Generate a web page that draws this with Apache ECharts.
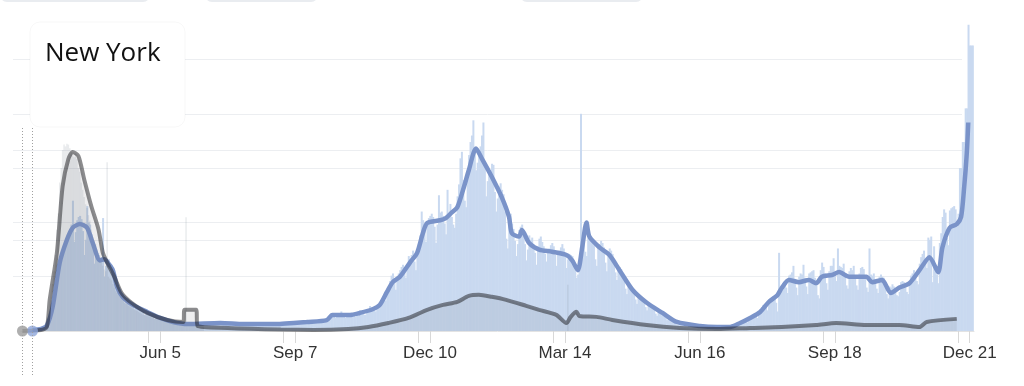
<!DOCTYPE html>
<html><head><meta charset="utf-8">
<script src="https://cdn.jsdelivr.net/npm/echarts@6/dist/echarts.min.js"></script>
<style>html,body{margin:0;padding:0;background:#fff}#c{width:1024px;height:386px}</style>
</head><body><div id="c"></div>
<script>
// ---------- data ----------
const chartTitle = 'New York';
const tickLabelDates = ['2020-06-05','2020-09-07','2020-12-10','2021-03-14','2021-06-16','2021-09-18','2021-12-21'];
const axisStart = '2020-02-29', axisEnd = '2021-12-24';

// daily reported cases (thousands), one value per day from casesStart
const casesStart = '2020-03-01';
const casesDaily = [
 0,0,0,0,0,0,0,0.05,0.05,0.1,0.1,0.15,0.2,0.2,0.25,0.3,0.4,0.6,1.0,1.5,1.9,2.3,2.9,3.8,4.6,5.4,6.4,6.8,7.1,7.4,8.0,
 8.6,9.0,9.4,9.8,12.0,8.2,9.1,10.2,10.5,10.6,10.3,9.2,7.0,8.4,11.5,10.0,9.8,8.9,7.8,6.2,6.8,7.2,7.0,6.5,6.8,10.4,5.0,6.0,6.2,6.6,
 6.0,6.1,5.6,4.4,4.3,4.0,3.8,3.6,3.2,2.9,2.6,2.9,3.0,2.8,2.6,2.5,2.3,2.0,2.2,2.3,2.2,2.1,1.9,1.8,1.5,1.6,1.8,1.7,1.6,1.5,1.3,
 1.1,1.2,1.3,1.3,1.2,1.1,1.0,0.9,0.9,1.0,0.9,0.9,0.8,0.7,0.7,0.8,0.8,0.7,0.8,0.7,0.6,0.6,0.6,0.7,0.7,0.7,0.6,0.6,0.5,0.6,
 0.6,0.7,0.7,0.6,0.6,0.5,0.6,0.6,0.7,0.8,0.7,0.7,0.6,0.7,0.8,0.8,0.8,0.8,0.7,0.6,0.7,0.7,0.8,0.8,0.7,0.6,0.6,0.6,0.7,0.7,0.7,
 0.7,0.6,0.5,0.6,0.7,0.7,0.7,0.7,0.6,0.5,0.6,0.7,0.7,0.7,0.7,0.6,0.5,0.6,0.6,0.7,0.7,0.7,0.6,0.5,0.6,0.6,0.7,0.7,0.7,0.6,0.6,
 0.6,0.7,0.8,0.8,0.8,0.7,0.6,0.6,0.7,0.8,0.8,0.8,0.7,0.7,0.8,0.8,0.9,0.9,0.9,0.8,0.8,0.8,0.9,0.9,1.0,1.0,0.9,0.9,1.1,1.2,
 1.4,1.6,1.5,1.3,1.2,1.3,1.5,1.6,1.8,1.5,1.3,1.2,1.3,1.4,1.6,1.7,1.6,1.4,1.3,1.6,1.8,1.9,1.8,1.7,1.5,1.5,1.9,2.0,2.3,2.2,2.1,
 1.9,1.8,2.2,2.4,2.6,2.8,3.0,2.9,2.8,3.6,4.1,4.6,5.1,5.3,4.6,3.8,4.9,5.3,5.6,5.9,6.1,5.5,4.9,6.0,6.9,6.5,7.0,7.4,6.4,5.6,
 7.4,8.0,8.8,11.0,10.2,9.4,8.2,9.7,10.4,10.6,10.8,10.5,9.6,8.1,9.8,12.5,10.9,11.0,10.6,9.9,8.9,13.0,10.8,11.7,10.5,9.8,9.5,10.8,12.4,13.5,15.9,
 16.5,13.9,12.0,11.4,14.0,16.2,17.4,18.0,19.4,16.5,14.8,15.5,16.2,17.0,18.0,19.2,15.1,12.4,13.8,14.5,14.8,15.4,15.3,12.8,11.0,12.2,13.3,13.6,13.0,12.6,11.0,
 8.5,7.6,10.2,10.8,9.9,9.4,8.3,6.9,8.0,9.3,9.6,9.8,8.9,8.0,6.5,7.5,8.8,8.4,8.6,8.0,7.2,6.1,7.8,8.5,8.7,8.2,7.8,7.1,
 6.4,7.3,7.6,7.9,8.1,7.8,7.0,6.0,7.0,7.4,7.7,8.0,7.6,6.9,5.8,6.6,7.1,7.0,6.9,6.5,5.8,4.9,5.2,6.2,20.0,8.4,8.1,7.3,6.9,8.6,8.9,
 8.7,8.4,7.9,6.6,6.0,7.6,8.0,8.3,8.1,7.7,6.3,5.5,7.0,7.6,7.4,7.1,6.6,5.4,4.7,5.6,5.9,5.7,5.3,4.8,3.9,3.4,4.2,4.3,4.1,3.8,
 3.5,2.9,2.5,3.1,3.2,3.0,2.9,2.7,2.2,1.9,2.4,2.5,2.3,2.2,2.0,1.6,1.4,1.8,1.9,1.8,1.7,1.5,1.2,1.0,1.2,1.2,1.1,1.0,0.9,0.8,0.6,
 0.6,0.7,0.7,0.7,0.6,0.5,0.4,0.5,0.5,0.6,0.5,0.5,0.4,0.3,0.4,0.4,0.5,0.4,0.4,0.3,0.3,0.4,0.4,0.4,0.4,0.4,0.3,0.3,0.4,0.4,
 0.4,0.4,0.3,0.3,0.3,0.4,0.5,0.6,0.6,0.6,0.5,0.5,0.7,0.8,0.9,1.0,1.0,0.9,0.8,1.1,1.3,1.4,1.5,1.4,1.3,1.2,1.8,2.0,2.2,2.4,2.3,
 2.2,1.9,2.9,3.0,3.1,3.2,3.0,2.6,1.8,7.2,3.9,4.2,4.4,4.6,4.0,3.5,5.1,5.2,5.4,6.0,4.8,4.0,3.3,5.0,5.3,5.2,6.1,4.9,4.1,3.4,5.3,
 5.4,5.5,5.6,4.9,4.2,3.3,3.0,5.6,6.3,5.9,5.3,4.4,3.8,5.5,6.0,6.0,6.7,5.4,4.6,7.6,6.0,5.9,5.8,6.2,5.0,4.2,3.9,5.5,5.8,5.6,
 6.0,5.1,4.2,3.8,5.3,5.8,5.9,5.7,5.0,4.0,3.6,7.6,5.2,5.1,5.3,4.6,3.9,3.5,5.0,5.2,5.0,4.9,4.3,3.4,3.0,4.1,4.0,4.3,4.1,3.7,3.3,
 3.2,3.6,4.5,4.6,4.5,4.3,3.6,3.4,4.6,5.1,5.3,5.6,5.2,4.6,4.3,6.2,6.8,7.1,7.4,6.6,5.8,8.6,8.4,8.7,4.5,7.8,6.0,5.2,4.4,8.1,
 9.0,10.5,11.2,10.9,8.6,7.9,11.1,11.3,11.4,11.5,11.2,9.6,10.8,15.0,15.0,17.4,17.4,20.5,20.5,28.2,26.3,26.3,26.3
];

// 7-day average of cases (thousands)
const casesAvg = [
 ['2020-03-08',0.1],['2020-03-14',0.2],['2020-03-18',0.5],['2020-03-22',2.2],['2020-03-27',6.3],['2020-04-01',8.4],
 ['2020-04-05',9.5],['2020-04-10',9.85],['2020-04-15',9.5],['2020-04-19',8.1],['2020-04-24',6.5],['2020-04-27',6.6],
 ['2020-04-30',6.2],['2020-05-03',5.6],['2020-05-06',4.05],['2020-05-10',3.1],['2020-05-17',2.4],['2020-05-27',1.75],
 ['2020-06-05',1.2],['2020-06-14',0.83],['2020-06-24',0.64],['2020-07-17',0.74],['2020-08-02',0.64],['2020-08-26',0.64],
 ['2020-09-06',0.74],['2020-09-15',0.83],['2020-09-29',1.0],['2020-10-03',1.47],['2020-10-15',1.47],['2020-10-22',1.66],
 ['2020-10-31',2.0],['2020-11-05',2.4],['2020-11-10',3.6],['2020-11-14',4.5],['2020-11-19',5.0],['2020-11-26',6.3],
 ['2020-12-01',7.2],['2020-12-05',9.0],['2020-12-08',9.95],['2020-12-17',10.2],['2020-12-21',10.4],['2020-12-25',10.9],
 ['2020-12-29',11.4],['2021-01-02',13.0],['2021-01-06',14.8],['2021-01-11',16.8],['2021-01-15',15.9],['2021-01-22',14.2],
 ['2021-01-29',12.3],['2021-02-03',10.5],['2021-02-05',9.0],['2021-02-10',8.7],['2021-02-12',9.3],['2021-02-17',8.1],
 ['2021-02-24',7.5],['2021-03-05',7.3],['2021-03-15',7.0],['2021-03-19',6.5],['2021-03-23',5.6],['2021-03-26',7.7],
 ['2021-03-29',10.0],['2021-03-31',8.7],['2021-04-07',7.7],['2021-04-14',7.0],['2021-04-21',5.6],['2021-04-30',3.8],
 ['2021-05-10',2.6],['2021-05-21',1.66],['2021-05-31',0.83],['2021-06-16',0.46],['2021-06-28',0.37],['2021-07-07',0.37],
 ['2021-07-14',0.74],['2021-07-21',1.2],['2021-07-28',1.75],['2021-08-03',2.67],['2021-08-09',3.3],['2021-08-12',3.96],
 ['2021-08-17',4.7],['2021-08-24',4.5],['2021-08-31',4.7],['2021-09-05',4.4],['2021-09-09',5.0],['2021-09-16',5.16],
 ['2021-09-21',5.43],['2021-09-28',5.0],['2021-10-10',5.0],['2021-10-14',4.5],['2021-10-21',4.7],['2021-10-27',3.5],
 ['2021-11-02',4.0],['2021-11-09',4.4],['2021-11-16',5.6],['2021-11-23',6.8],['2021-11-29',5.4],['2021-12-02',7.7],
 ['2021-12-07',9.5],['2021-12-12',9.85],['2021-12-15',10.5],['2021-12-17',13.0],['2021-12-19',16.4],['2021-12-20',19.2]
];

// daily deaths, spring 2020 (one value per day from deathsStart)
const deathsStart = '2020-03-01';
const deathsDaily = [
 0,0,0,0,0,0,0,0,0,0,0,0,0,5,8,15,25,40,70,110,170,260,330,420,560,650,820,900,1000,1030,1020,
 1035,1030,1010,990,970,960,980,950,900,880,820,780,740,700,680,640,610,560,520,500,480,450,430,410,390,360,340,330,933,300,
 290,280,260,240,220,210,200,190,180,170,160,150,150,140,135,130,125,120,115,110,105,100,95,90,88,85,82,80,78,75,72,
 70,68,66,64,62,60,60,58,56,55,54,53,52,51,50,50,49,48,48,47,46,46,628,45,45,44,44,43,42,41,
 30,28,27,26,25
];
const deathsSpikes = [['2021-03-16',256]];

// 7-day average of deaths
const deathsAvg = [
 ['2020-03-01',0],['2020-03-14',5],['2020-03-18',22],['2020-03-20',172],['2020-03-25',433],['2020-03-29',800],
 ['2020-04-02',950],['2020-04-05',989],['2020-04-09',967],['2020-04-13',839],['2020-04-18',689],['2020-04-23',561],
 ['2020-04-26',433],['2020-04-29',378],['2020-05-04',300],['2020-05-09',211],['2020-05-16',156],['2020-05-27',100],
 ['2020-06-10',61],['2020-06-21',50],['2020-06-22',117],['2020-06-30',117],['2020-07-01',28],['2020-07-22',17],
 ['2020-08-28',8],['2020-09-20',6],['2020-10-14',11],['2020-10-28',22],['2020-11-11',44],['2020-11-25',72],
 ['2020-12-08',117],['2020-12-19',144],['2020-12-29',161],['2021-01-06',194],['2021-01-13',200],['2021-01-22',189],
 ['2021-02-01',172],['2021-02-15',139],['2021-02-24',117],['2021-03-08',89],['2021-03-15',44],['2021-03-18',78],
 ['2021-03-22',106],['2021-03-24',83],['2021-04-05',78],['2021-04-16',61],['2021-05-10',33],['2021-06-02',17],
 ['2021-06-28',11],['2021-07-21',17],['2021-08-12',22],['2021-09-05',33],['2021-09-19',44],['2021-10-10',33],
 ['2021-11-02',33],['2021-11-16',22],['2021-11-21',50],['2021-12-12',67]
];

// ---------- helpers ----------
const DAY = 864e5;
const ts = s => { const [y,m,d] = s.split('-').map(Number); return Date.UTC(y, m-1, d); };
const daily = (start, arr) => arr.map((v,i) => [ts(start) + i*DAY, v]);
const pairs = arr => arr.map(p => [ts(p[0]), p[1]]);
const MONTHS = ['Jan','Feb','Mar','Apr','May','Jun','Jul','Aug','Sep','Oct','Nov','Dec'];
const labelVals = tickLabelDates.map(ts);
const tickVals = [];
labelVals.forEach(v => { tickVals.push(v - 8*DAY, v); });

const casesMax = 30, casesStep = 5, deathsMax = 1800, deathsStep = 500;

const chart = echarts.init(document.getElementById('c'), null, {renderer:'canvas'});
const gridLine = {show:true, showMinLine:false, showMaxLine:false, lineStyle:{color:'#eceef1', width:1}};
const option = {
  animation:false,
  backgroundColor:'#fff',
  grid:[
    {left:21, right:50, top:5.2, bottom:55, outerBoundsMode:'none', containLabel:false},
    {left:13, right:62, top:5.2, bottom:55, outerBoundsMode:'none', containLabel:false}
  ],
  xAxis:[
    {type:'value', gridIndex:0, min:ts(axisStart), max:ts(axisEnd),
     axisLine:{show:true, lineStyle:{color:'#e3e3e3'}},
     axisTick:{show:true, customValues:tickVals, length:12, lineStyle:{color:'#d8d8d8'}},
     axisLabel:{customValues:labelVals, color:'#333', fontSize:17, fontFamily:'Liberation Sans, Arial, sans-serif', margin:14,
       showMinLabel:true, showMaxLabel:true, hideOverlap:false,
       formatter: v => { const d = new Date(v); return MONTHS[d.getUTCMonth()] + ' ' + d.getUTCDate(); }},
     splitLine:{show:false}},
    {type:'value', gridIndex:1, min:0, max:1, show:false}
  ],
  yAxis:[
    {type:'value', gridIndex:0, min:0, max:casesMax, interval:casesStep, show:false},
    {type:'value', gridIndex:0, min:0, max:deathsMax, interval:deathsStep, show:false},
    {type:'value', gridIndex:1, min:0, max:casesMax, interval:casesStep, axisLine:{show:false}, axisTick:{show:false}, axisLabel:{show:false}, splitLine:gridLine},
    {type:'value', gridIndex:1, min:0, max:deathsMax, interval:deathsStep, axisLine:{show:false}, axisTick:{show:false}, axisLabel:{show:false}, splitLine:gridLine}
  ],
  series:[
    {name:'Cases', type:'bar', xAxisIndex:0, yAxisIndex:0, data:daily(casesStart, casesDaily),
     barWidth:2, barGap:'-100%', itemStyle:{color:'#c9d9f0'}, z:1, silent:true},
    {name:'Deaths', type:'bar', xAxisIndex:0, yAxisIndex:1, data:daily(deathsStart, deathsDaily).concat(pairs(deathsSpikes)),
     barWidth:1.44, barGap:'-100%', itemStyle:{color:'rgba(120,128,145,0.16)'}, z:2, silent:true},
    {name:'Cases avg', type:'line', xAxisIndex:0, yAxisIndex:0, data:pairs(casesAvg), showSymbol:false, smooth:0.25,
     lineStyle:{color:'#7a93c9', width:4.5}, z:3, silent:true},
    {name:'Deaths avg', type:'line', xAxisIndex:0, yAxisIndex:1, data:pairs(deathsAvg), showSymbol:false, smooth:0.25,
     lineStyle:{color:'rgba(25,25,30,0.5)', width:4}, areaStyle:{color:'rgba(90,95,105,0.15)'}, z:4, silent:true},
    {name:'Deaths start', type:'scatter', xAxisIndex:0, yAxisIndex:1, data:[[ts(deathsAvg[0][0]),0]], symbolSize:11,
     itemStyle:{color:'#9b9b9b'}, z:6, silent:true},
    {name:'Cases start', type:'scatter', xAxisIndex:0, yAxisIndex:0, data:[[ts(casesAvg[0][0]),0]], symbolSize:11,
     itemStyle:{color:'#8ea6da'}, z:5, silent:true}
  ]
};
chart.setOption(option);

// annotations: start markers (dotted), title box
const xMarks = [deathsAvg[0][0], casesAvg[0][0]].map(s => chart.convertToPixel({xAxisIndex:0}, ts(s)));
const graphics = [
  {type:'rect', shape:{x:0,y:-12,width:150,height:14,r:10}, style:{fill:'#e9ecf0'}, z:1},
  {type:'rect', shape:{x:205,y:-12,width:113,height:14,r:10}, style:{fill:'#e9ecf0'}, z:1},
  {type:'rect', shape:{x:520,y:-12,width:123,height:14,r:10}, style:{fill:'#e9ecf0'}, z:1},
  {type:'rect', shape:{x:30,y:22,width:155,height:105,r:10}, style:{fill:'#fff', stroke:'rgba(0,0,0,0.03)', lineWidth:1}, z:50},
  {type:'text', x:45, y:53.5, style:{text:chartTitle, fill:'#111', fontSize:26, fontFamily:'Open Sans', verticalAlign:'middle'}, z:51}
];
xMarks.forEach(x => graphics.push({type:'line', shape:{x1:Math.round(x)+0.5, y1:128, x2:Math.round(x)+0.5, y2:375},
  style:{stroke:'#a0a0a0', lineWidth:1, lineDash:[1,2]}, z:60}));
chart.setOption({graphic:graphics});
</script>
</body></html>
